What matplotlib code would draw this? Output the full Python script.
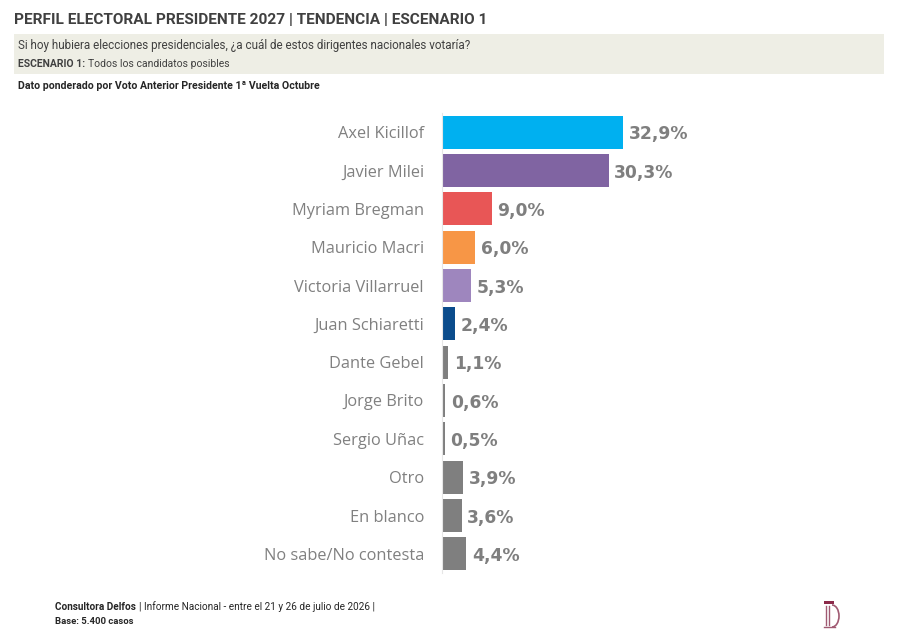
import matplotlib
matplotlib.use("Agg")
from matplotlib import pyplot as plt
from matplotlib.patches import Rectangle, Arc

# data
candidates = [
    "Axel Kicillof", "Javier Milei", "Myriam Bregman", "Mauricio Macri",
    "Victoria Villarruel", "Juan Schiaretti", "Dante Gebel", "Jorge Brito",
    "Sergio Uñac", "Otro", "En blanco", "No sabe/No contesta",
]
values = [32.9, 30.3, 9.0, 6.0, 5.3, 2.4, 1.1, 0.6, 0.5, 3.9, 3.6, 4.4]
colors = [
    "#00B0F0", "#8064A2", "#E85656", "#F79646", "#9E86BE", "#0B4C8C",
    "#7F7F7F", "#7F7F7F", "#7F7F7F", "#7F7F7F", "#7F7F7F", "#7F7F7F",
]

head_font = ["Roboto", "DejaVu Sans"]
body_font = ["Open Sans", "DejaVu Sans"]

W, H = 900, 635
fig = plt.figure(figsize=(9, 6.35), dpi=100)
fig.patch.set_facecolor("white")
renderer = fig.canvas.get_renderer()


def fx(px):
    return px / W


def fy(py):
    return 1 - py / H


def text_run(x, y, parts, size, color):
    # draws bold/normal pieces one after another on a line
    for txt, weight in parts:
        t = fig.text(fx(x), fy(y), txt, family=head_font, weight=weight, size=size,
                     color=color, va="center")
        x += t.get_window_extent(renderer).width + 3


# header
fig.text(fx(14), fy(20), "PERFIL ELECTORAL PRESIDENTE 2027 | TENDENCIA | ESCENARIO 1",
         family=head_font, weight="bold", size=11.1, color="#404040", va="center")
fig.patches.append(Rectangle((fx(14), fy(74)), fx(870), 40 / H, transform=fig.transFigure,
                             facecolor="#EEEEE5", edgecolor="none", zorder=0))
text_run(18, 45, [("Si hoy hubiera elecciones presidenciales, ¿a cuál de estos dirigentes nacionales votaría?", "normal")],
         8.4, "#404040")
text_run(18, 64, [("ESCENARIO 1:", "bold"), ("Todos los candidatos posibles", "normal")], 7.5, "#404040")
text_run(18, 86, [("Dato ponderado por Voto Anterior Presidente 1ª Vuelta Octubre", "bold")], 7.6, "#262626")

# bars
ax = fig.add_axes([fx(442), fy(573), fx(400), 460 / H])
ypos = list(range(len(candidates)))
ax.barh(ypos, values, height=0.86, color=colors)
ax.set_xlim(0, 400 / 5.5)
ax.set_ylim(len(candidates) - 0.5, -0.5)
ax.set_yticks(ypos)
ax.set_yticklabels(candidates, family=body_font, size=11.8, color="#808080")
ax.tick_params(axis="y", length=0, pad=13)
ax.set_xticks([])
for s in ["top", "right", "bottom"]:
    ax.spines[s].set_visible(False)
ax.spines["left"].set_color("#E6E6E6")
ax.spines["left"].set_linewidth(0.8)

for y, v in zip(ypos, values):
    ax.annotate(f"{v:.1f}%".replace(".", ","), (v, y), xytext=(4, -1.5),
                textcoords="offset points", va="center", ha="left",
                family="DejaVu Sans", weight="bold", size=12.3, color="#7F7F7F")

# footer
text_run(55, 607, [("Consultora Delfos", "bold"),
                   ("| Informe Nacional - entre el 21 y 26 de julio de 2026 |", "normal")],
         7.2, "#262626")
text_run(55, 622, [("Base: 5.400 casos", "bold")], 6.8, "#262626")

# logo
maroon = "#8C2A4A"
fig.patches.append(Rectangle((fx(824), fy(604)), fx(10), 3 / H, transform=fig.transFigure,
                             facecolor=maroon, edgecolor="none"))
for xl in (826, 829):
    fig.lines.append(plt.Line2D([fx(xl), fx(xl)], [fy(606), fy(625)], transform=fig.transFigure,
                                color="#A05A72", lw=1))
fig.lines.append(plt.Line2D([fx(824), fx(835)], [fy(627), fy(627)], transform=fig.transFigure,
                            color="#A05A72", lw=1))
logo_ax = fig.add_axes([fx(824), fy(628), fx(16), 24 / H])
logo_ax.set_xlim(0, 16)
logo_ax.set_ylim(0, 24)
logo_ax.axis("off")
logo_ax.add_patch(Arc((8, 12), 14, 22, theta1=-90, theta2=90, color="#A05A72", lw=1.2))

fig.savefig("out.png", dpi=100)
plt.close(fig)
